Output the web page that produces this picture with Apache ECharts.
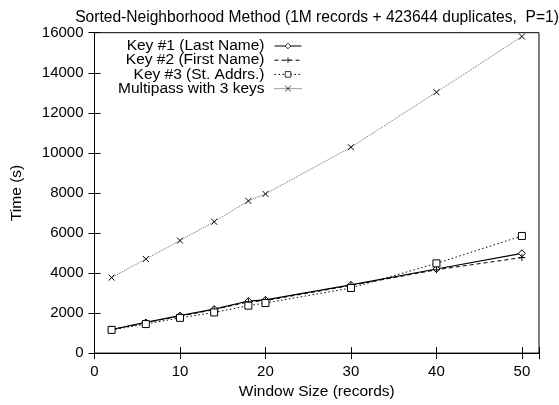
<!DOCTYPE html>
<html>
<head>
<meta charset="utf-8">
<script src="https://cdn.jsdelivr.net/npm/echarts@6/dist/echarts.min.js"></script>
<style>html,body{margin:0;padding:0;background:#fff}#c{width:559px;height:405px}</style>
</head>
<body>
<div id="c"></div>
<script>
var windowSizes = [2, 6, 10, 14, 18, 20, 30, 40, 50];
var key1 = [1180, 1530, 1870, 2200, 2600, 2660, 3410, 4200, 4980];
var key2 = [1170, 1520, 1850, 2170, 2560, 2620, 3380, 4160, 4770];
var key3 = [1160, 1450, 1760, 2030, 2370, 2500, 3250, 4480, 5850];
var multipass = [3770, 4700, 5620, 6560, 7600, 7950, 10280, 13030, 15810];
var seriesNames = ['Key #1 (Last Name)', 'Key #2 (First Name)', 'Key #3 (St. Addrs.)', 'Multipass with 3 keys'];
var xTicks = [0, 10, 20, 30, 40, 50];
var yTicks = [0, 2000, 4000, 6000, 8000, 10000, 12000, 14000, 16000];

function pairs(ys) { return windowSizes.map(function (x, i) { return [x, ys[i]]; }); }

var FONT = 'Liberation Sans, Arial, sans-serif';
var plusPath = 'path://M0,5L10,5M5,0L5,10';
var crossPath = 'path://M0,0L10,10M10,0L0,10';

var chart = echarts.init(document.getElementById('c'), null, {renderer: 'canvas'});
chart.setOption({
  animation: false,
  backgroundColor: '#fff',
  title: {
    text: 'Sorted-Neighborhood Method (1M records + 423644 duplicates,  P=1)',
    left: 312, top: 5, textAlign: 'center',
    textStyle: {fontFamily: FONT, fontSize: 15.6, fontWeight: 'normal', color: '#000'}
  },
  grid: {left: 94.5, right: 20, top: 32.7, bottom: 42.3, show: true, borderColor: '#000', borderWidth: 1, backgroundColor: 'transparent'},
  legend: {
    right: 257, top: 38, orient: 'vertical', align: 'right',
    itemWidth: 27, itemHeight: 7, itemGap: -1.8, padding: 0,
    lineStyle: {width: 1},
    itemStyle: {borderWidth: 0.8},
    textStyle: {fontFamily: FONT, fontSize: 15.5, lineHeight: 14, color: '#000', padding: [0, 5, 0, 0]},
    data: seriesNames
  },
  xAxis: [{
    type: 'value', min: 0, max: 52, interval: 10,
    name: 'Window Size (records)', nameLocation: 'middle', nameGap: 26,
    nameTextStyle: {fontFamily: FONT, fontSize: 15.5, color: '#000'},
    axisLine: {show: true, lineStyle: {color: '#000'}},
    axisTick: {inside: true, length: 6, lineStyle: {color: '#000'}},
    axisLabel: {fontFamily: FONT, fontSize: 15, color: '#000', margin: 11,
      formatter: function (v) { return xTicks.indexOf(v) >= 0 ? String(v) : ''; }},
    splitLine: {show: false}
  }, {
    type: 'value', min: 0, max: 52, interval: 10, position: 'top',
    axisLine: {show: true, lineStyle: {color: '#000'}},
    axisTick: {inside: true, length: 6, lineStyle: {color: '#000'}},
    axisLabel: {show: false}, splitLine: {show: false}
  }],
  yAxis: [{
    type: 'value', min: 0, max: 16000, interval: 2000,
    name: 'Time (s)', nameLocation: 'middle', nameGap: 70,
    nameTextStyle: {fontFamily: FONT, fontSize: 15.5, color: '#000'},
    axisLine: {show: true, lineStyle: {color: '#000'}},
    axisTick: {inside: true, length: 6, lineStyle: {color: '#000'}},
    axisLabel: {fontFamily: FONT, fontSize: 15, color: '#000', margin: 11,
      formatter: function (v) { return yTicks.indexOf(v) >= 0 ? String(v) : ''; }},
    splitLine: {show: false}
  }, {
    type: 'value', min: 0, max: 16000, interval: 2000, position: 'right',
    axisLine: {show: true, lineStyle: {color: '#000'}},
    axisTick: {inside: true, length: 6, lineStyle: {color: '#000'}},
    axisLabel: {show: false}, splitLine: {show: false}
  }],
  series: [{
    name: seriesNames[0], type: 'line', data: pairs(key1),
    symbol: 'diamond', symbolSize: 7,
    itemStyle: {color: '#fff', borderColor: '#000', borderWidth: 1},
    lineStyle: {color: '#000', width: 1.2, type: 'solid'}
  }, {
    name: seriesNames[1], type: 'line', data: pairs(key2),
    symbol: plusPath, symbolSize: 7,
    itemStyle: {color: 'none', borderColor: '#000', borderWidth: 1},
    lineStyle: {color: '#000', width: 1, type: [4, 3]}
  }, {
    name: seriesNames[2], type: 'line', data: pairs(key3),
    symbol: 'rect', symbolSize: 7,
    itemStyle: {color: '#fff', borderColor: '#000', borderWidth: 1},
    lineStyle: {color: '#000', width: 1, type: [1.5, 2.5]}
  }, {
    name: seriesNames[3], type: 'line', data: pairs(multipass),
    symbol: crossPath, symbolSize: 6,
    itemStyle: {color: 'none', borderColor: '#000', borderWidth: 1},
    lineStyle: {color: '#444', width: 0.8, type: [1, 1]}
  }]
});
</script>
</body>
</html>
